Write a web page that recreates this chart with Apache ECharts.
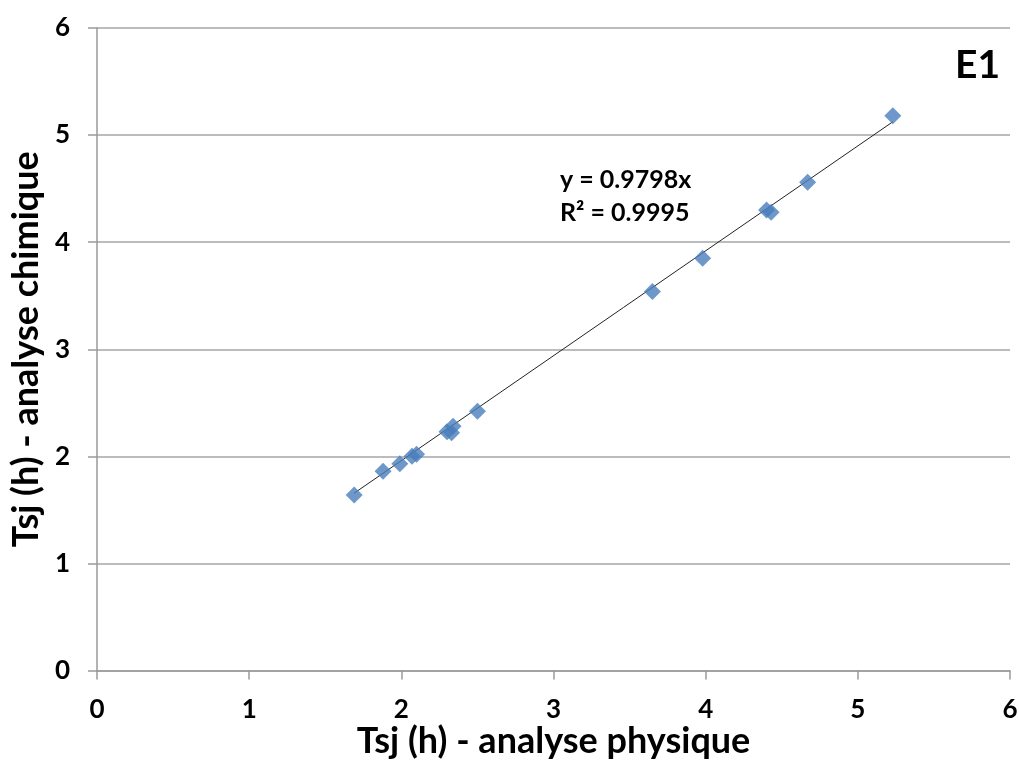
<!DOCTYPE html>
<html lang="fr">
<head>
    <meta charset="UTF-8">
    <title>E1</title>
    <script src="https://cdn.jsdelivr.net/npm/echarts@6/dist/echarts.min.js"></script>
    <style>
        html, body { margin: 0; padding: 0; background: #fff; }
        #chart { width: 1019px; height: 760px; }
    </style>
</head>
<body>
    <div id="chart"></div>
    <script>
        // données
        var physique = [1.69, 1.88, 1.99, 2.07, 2.10, 2.30, 2.33, 2.34, 2.50, 3.65, 3.98, 4.40, 4.43, 4.67, 5.23];
        var chimique = [1.64, 1.86, 1.93, 2.00, 2.02, 2.23, 2.22, 2.28, 2.42, 3.54, 3.85, 4.30, 4.28, 4.56, 5.18];
        var xTicks = [0, 1, 2, 3, 4, 5, 6];
        var yTicks = [0, 1, 2, 3, 4, 5, 6];
        var pente = 0.9798;
        var r2 = 0.9995;

        var points = [];
        for (var i = 0; i < physique.length; i++) {
            points.push([physique[i], chimique[i]]);
        }
        // droite de tendance (passe par l'origine), sur l'étendue des données
        var xmin = Math.min.apply(null, physique);
        var xmax = Math.max.apply(null, physique);
        var tendance = [[xmin, pente * xmin], [xmax, pente * xmax]];

        var font = 'Lato, "Open Sans", sans-serif';
        var myChart = echarts.init(document.getElementById('chart'));
        var option = {
            animation: false,
            grid: { left: 97, right: 9, top: 28, bottom: 89.5, outerBoundsMode: 'none', containLabel: false },
            xAxis: {
                type: 'value',
                min: xTicks[0],
                max: xTicks[xTicks.length - 1],
                interval: 1,
                name: 'Tsj (h) - analyse physique',
                nameLocation: 'middle',
                nameGap: 53,
                nameMoveOverlap: false,
                nameTextStyle: { fontFamily: font, fontWeight: 'bold', fontSize: 36, color: '#000' },
                axisLine: { lineStyle: { color: '#9a9a9a', width: 1.5 } },
                axisTick: { show: true, inside: false, length: 9, lineStyle: { color: '#9a9a9a', width: 1.5 } },
                axisLabel: { margin: 26, fontFamily: font, fontWeight: 'bold', fontSize: 26, color: '#000' },
                splitLine: { show: false }
            },
            yAxis: {
                type: 'value',
                min: yTicks[0],
                max: yTicks[yTicks.length - 1],
                interval: 1,
                name: 'Tsj (h) - analyse chimique',
                nameLocation: 'middle',
                nameGap: 53,
                nameMoveOverlap: false,
                nameTextStyle: { fontFamily: font, fontWeight: 'bold', fontSize: 36, color: '#000' },
                axisLine: { show: true, lineStyle: { color: '#9a9a9a', width: 1.5 } },
                axisTick: { show: true, inside: false, length: 9, lineStyle: { color: '#9a9a9a', width: 1.5 } },
                axisLabel: { margin: 27, fontFamily: font, fontWeight: 'bold', fontSize: 26, color: '#000' },
                splitLine: { show: true, lineStyle: { color: '#a6a6a6', width: 1.5 } }
            },
            graphic: [
                {
                    type: 'text',
                    left: 560, top: 163,
                    style: {
                        text: 'y = ' + pente.toFixed(4) + 'x\nR² = ' + r2.toFixed(4),
                        font: 'bold 25px ' + font,
                        fill: '#000',
                        lineHeight: 33
                    }
                },
                {
                    type: 'text',
                    left: 955, top: 46,
                    style: { text: 'E1', font: 'bold 39px ' + font, fill: '#000' }
                }
            ],
            series: [
                {
                    type: 'line',
                    data: tendance,
                    symbol: 'none',
                    lineStyle: { color: '#222', width: 1 },
                    z: 3
                },
                {
                    type: 'scatter',
                    data: points,
                    symbol: 'diamond',
                    symbolSize: 17,
                    itemStyle: { color: '#4a7ebb' },
                    z: 4
                }
            ]
        };
        myChart.setOption(option);
    </script>
</body>
</html>
